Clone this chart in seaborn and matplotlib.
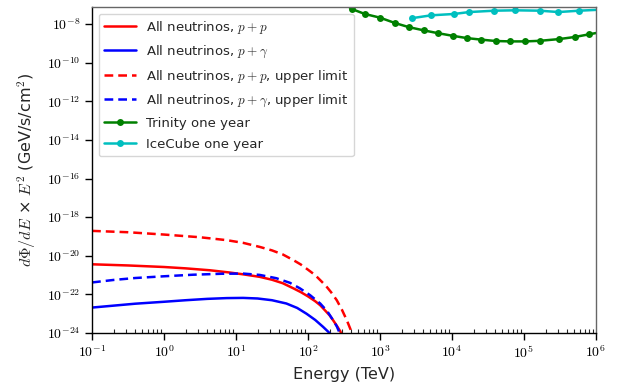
import numpy as np
import pandas as pd
import matplotlib
matplotlib.use("Agg")
import matplotlib.pyplot as plt
import seaborn as sns
from matplotlib.ticker import LogLocator, FixedLocator, NullFormatter

sns.set_style("ticks")
plt.rcParams["font.family"] = ["DejaVu Sans"]
plt.rcParams["mathtext.fontset"] = "cm"

# ---- data (log10 of energy in TeV, log10 of flux) ----
pp_logE = [-1.0, -0.5, 0.0, 0.3, 0.64, 0.9, 1.1, 1.33, 1.5, 1.65, 1.8, 1.9, 2.0, 2.1, 2.17, 2.25, 2.30, 2.35, 2.40, 2.45, 2.5]
pp_logF = [-20.44, -20.50, -20.58, -20.65, -20.75, -20.86, -20.96, -21.09, -21.24, -21.42, -21.69, -21.88, -22.10, -22.35, -22.56, -22.88, -23.08, -23.34, -23.62, -23.92, -24.3]

pg_logE = [-1.0, -0.7, -0.4, 0.0, 0.3, 0.6, 0.87, 1.1, 1.3, 1.5, 1.7, 1.85, 1.98, 2.1, 2.21, 2.30, 2.35]
pg_logF = [-22.68, -22.58, -22.48, -22.38, -22.30, -22.23, -22.19, -22.18, -22.21, -22.30, -22.47, -22.70, -23.0, -23.32, -23.68, -24.0, -24.3]

ppu_logE = [-1.0, -0.5, 0.0, 0.5, 0.87, 1.1, 1.33, 1.5, 1.65, 1.8, 1.9, 2.0, 2.1, 2.17, 2.25, 2.32, 2.40, 2.47, 2.54, 2.59, 2.63]
ppu_logF = [-18.71, -18.78, -18.90, -19.04, -19.19, -19.33, -19.54, -19.72, -19.93, -20.23, -20.45, -20.72, -21.0, -21.26, -21.56, -21.88, -22.30, -22.78, -23.34, -23.8, -24.3]

pgu_logE = [-1.0, -0.7, -0.4, 0.0, 0.4, 0.8, 1.1, 1.33, 1.56, 1.75, 1.89, 2.03, 2.17, 2.27, 2.35, 2.40, 2.44, 2.48]
pgu_logF = [-21.38, -21.25, -21.15, -21.06, -20.98, -20.93, -20.92, -20.99, -21.16, -21.40, -21.69, -22.04, -22.47, -22.88, -23.34, -23.65, -24.0, -24.3]

trinity_logE = [2.4, 2.607, 2.79, 3.0, 3.21, 3.40, 3.61, 3.80, 4.01, 4.21, 4.41, 4.61, 4.81, 5.02, 5.22, 5.49, 5.71, 5.91, 6.1]
trinity_logF = [-6.6, -7.22, -7.48, -7.67, -7.95, -8.16, -8.33, -8.47, -8.61, -8.73, -8.81, -8.88, -8.90, -8.90, -8.87, -8.78, -8.67, -8.53, -8.40]

icecube_logE = [3.44, 3.71, 4.03, 4.24, 4.59, 4.88, 5.22, 5.48, 5.77, 6.05]
icecube_logF = [-7.70, -7.55, -7.48, -7.38, -7.31, -7.29, -7.31, -7.38, -7.31, -7.26]

labels = [r"All neutrinos, $p+p$", r"All neutrinos, $p+\gamma$",
          r"All neutrinos, $p+p$, upper limit", r"All neutrinos, $p+\gamma$, upper limit",
          "Trinity one year", "IceCube one year"]

def frame(le, lf):
    return pd.DataFrame({"E": 10.0 ** np.array(le), "F": 10.0 ** np.array(lf)})

fig = plt.figure(figsize=(6.22, 3.90), dpi=100)
ax = fig.add_axes([0.148, 0.146, 0.810, 0.836])

specs = [
    (pp_logE, pp_logF, dict(color="red", linestyle="-")),
    (pg_logE, pg_logF, dict(color="blue", linestyle="-")),
    (ppu_logE, ppu_logF, dict(color="red", linestyle=(0, (3.5, 2)))),
    (pgu_logE, pgu_logF, dict(color="blue", linestyle=(0, (3.5, 2)))),
    (trinity_logE, trinity_logF, dict(color="green", linestyle="-", marker="o", markersize=5, markeredgewidth=0)),
    (icecube_logE, icecube_logF, dict(color="c", linestyle="-", marker="o", markersize=5, markeredgewidth=0)),
]
for (le, lf, kw), lab in zip(specs, labels):
    d = frame(le, lf)
    sns.lineplot(data=d, x="E", y="F", ax=ax, sort=False, estimator=None,
                 linewidth=1.8, label=lab, **kw)

ax.set_xscale("log")
ax.set_yscale("log")
ax.set_xlim(1e-1, 1e6)
ax.set_ylim(1e-24, 10 ** -7.12)

ax.yaxis.set_major_locator(FixedLocator([10.0 ** k for k in range(-24, -7, 2)]))
ax.yaxis.set_minor_locator(FixedLocator([]))
ax.set_yticklabels([r"$10^{%d}$" % k for k in range(-24, -7, 2)])
ax.xaxis.set_major_locator(FixedLocator([10.0 ** k for k in range(-1, 7)]))
ax.set_xticklabels([r"$10^{%d}$" % k for k in range(-1, 7)])
ax.xaxis.set_minor_locator(LogLocator(base=10, subs=np.arange(2, 10), numticks=20))
ax.xaxis.set_minor_formatter(NullFormatter())

ax.tick_params(axis="both", which="major", direction="out", length=5, width=1, labelsize=10, colors="black")
ax.tick_params(axis="x", which="minor", direction="in", length=3, width=0.8)
for s in ["left", "bottom"]:
    ax.spines[s].set_color("black")
    ax.spines[s].set_linewidth(1.0)
for s in ["top", "right"]:
    ax.spines[s].set_visible(True)
    ax.spines[s].set_color("#666666")
    ax.spines[s].set_linewidth(1.0)

ax.set_xlabel("Energy (TeV)", fontsize=11.5, labelpad=4)
ax.set_ylabel(r"$d\Phi/dE$ × $E^2$ (GeV/s/cm$^2$)", fontsize=11.5, labelpad=6)

leg = ax.legend(loc="upper left", fontsize=9.5, frameon=True, fancybox=True,
                handlelength=2.4, labelspacing=0.6, borderaxespad=0.5)
leg.get_frame().set_edgecolor("#cccccc")

fig.savefig("out.png", dpi=100)
